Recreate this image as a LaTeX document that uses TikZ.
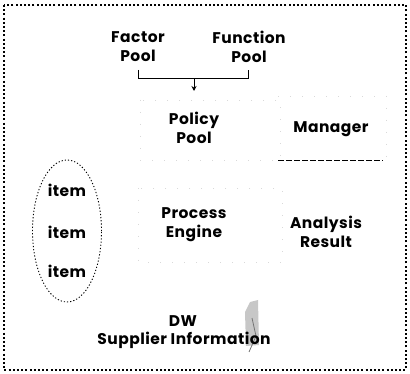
\documentclass[tikz,border=0pt]{standalone}
\usepackage{fontspec}
\setmainfont{Poppins}[LetterSpace=3]
\usetikzlibrary{arrows.meta,shapes.geometric}
\begin{document}
\begin{tikzpicture}[x=1pt,y=-1pt,
  lbl/.style={font=\fontsize{15.5}{19}\selectfont\bfseries, align=center, inner sep=0pt, text=black},
  frame/.style={draw=black, line width=1.6pt, dash pattern=on 2pt off 2.2pt},
  faint/.style={draw=black!15, line width=0.6pt, dash pattern=on 1pt off 11pt},
  grp/.style={ellipse, draw=black, line width=0.9pt, dash pattern=on 1.2pt off 2pt, minimum width=69pt, minimum height=142pt, inner sep=0pt}]
\useasboundingbox (0,0) rectangle (410,374);
\draw[frame] (4,5) rectangle (406,370);
% faint boxes
\draw[faint] (140,100) rectangle (280,160);
\draw[faint] (278,96) -- (386,96) -- (386,161);
\draw[faint] (138,188) rectangle (282,262);
% scan smudge (behind text)
\fill[black!22] (245,312) -- (250,302) -- (258,300) -- (259,345) -- (246,346) -- cycle;
\draw[black!55, line width=0.8pt] (252,318) -- (256,336) -- (249,352);
% nodes
\node[lbl] (factor) at (138,47) {Factor\\Pool};
\node[lbl] (function) at (249,47) {Function\\Pool};
\node[lbl] (policy) at (194,128) {Policy\\Pool};
\node[lbl] (manager) at (331,129) {Manager};
\node[grp] (items) at (67,231) {};
\node[lbl] (item1) at (67,190) {item};
\node[lbl] (item2) at (67,232) {item};
\node[lbl] (item3) at (67,271) {item};
\node[lbl] (process) at (194,225) {Process\\Engine};
\node[lbl] (analysis) at (326,232) {Analysis\\Result};
\node[lbl] (dw) at (183,321) {DW};
\node[lbl] (supplier) at (184,340) {Supplier Information};
% bracket joining the two pools
\coordinate (bl) at (138,70);
\coordinate (br) at (248,70);
\coordinate (bm) at (194,79);
\coordinate (bt) at (194,91);
\draw[line width=1pt] (bl) -- ++(0,9) -| (br);
\draw[line width=0.9pt, -{Stealth[length=5pt,width=5pt]}] (bm) -- (bt);
% dashed rule under Manager
\coordinate (ml) at (278,161);
\coordinate (mr) at (383,161);
\draw[line width=1pt, dash pattern=on 6pt off 2pt] (ml) -- (mr);
\end{tikzpicture}
\end{document}
